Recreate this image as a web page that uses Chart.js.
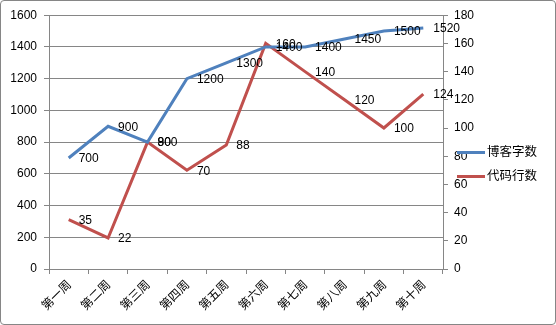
<!DOCTYPE html>
<html>
<head>
<meta charset="utf-8">
<script src="https://cdn.jsdelivr.net/npm/chart.js@4/dist/chart.umd.min.js"></script>
<style>
  html, body { margin: 0; padding: 0; background: #fff; }
  #wrap {
    position: relative;
    width: 554px; height: 323px;
    border: 1px solid #868686;
    border-radius: 4px;
    overflow: hidden;
  }
  #legend {
    position: absolute; left: 456px; top: 138px;
    font: 12.5px "Noto Sans CJK SC", sans-serif; color: #000;
  }
  #legend div { height: 24px; line-height: 24px; white-space: nowrap; }
  #legend span.swatch {
    display: inline-block; width: 28px; height: 3px;
    vertical-align: middle; margin-right: 2px;
  }
</style>
</head>
<body>
<div id="wrap">
  <canvas id="chart" width="554" height="323"></canvas>
  <div id="legend"></div>
</div>
<script>
// chart data
const weeks = ['第一周', '第二周', '第三周', '第四周', '第五周', '第六周', '第七周', '第八周', '第九周', '第十周'];
const blogWords = [700, 900, 800, 1200, 1300, 1400, 1400, 1450, 1500, 1520];
const codeLines = [35, 22, 90, 70, 88, 160, 140, 120, 100, 124];

const seriesNames = ['博客字数', '代码行数'];
const colors = ['#4F81BD', '#C0504D'];

// draws the value next to each point
const pointLabels = {
  id: 'pointLabels',
  afterDatasetsDraw(chart) {
    const c = chart.ctx;
    c.save();
    c.font = '12px "Liberation Sans", Arial, sans-serif';
    c.fillStyle = '#000';
    c.textAlign = 'left';
    c.textBaseline = 'middle';
    chart.data.datasets.forEach((ds, i) => {
      chart.getDatasetMeta(i).data.forEach((pt, j) => {
        c.fillText(ds.data[j], pt.x + 10, pt.y + 1);
      });
    });
    c.restore();
  }
};

document.addEventListener('DOMContentLoaded', () => {
  const ctx = document.getElementById('chart');
  const tickFont = { family: '"Liberation Sans", Arial, sans-serif', size: 12 };

  new Chart(ctx, {
    type: 'line',
    data: {
      labels: weeks,
      datasets: [
        {
          label: seriesNames[0],
          data: blogWords,
          borderColor: colors[0],
          borderWidth: 3,
          pointRadius: 0,
          yAxisID: 'y'
        },
        {
          label: seriesNames[1],
          data: codeLines,
          borderColor: colors[1],
          borderWidth: 3,
          pointRadius: 0,
          yAxisID: 'y1'
        }
      ]
    },
    options: {
      responsive: false,
      animation: false,
      layout: { padding: { top: 13, left: 0, right: 0, bottom: 0 } },
      plugins: {
        legend: { display: false },
        tooltip: { enabled: false }
      },
      scales: {
        x: {
          offset: true,
          grid: { drawOnChartArea: false, color: '#868686', tickLength: 5, offset: true },
          border: { color: '#868686' },
          ticks: {
            color: '#000',
            minRotation: 45,
            maxRotation: 45,
            font: { family: '"Noto Sans CJK SC", sans-serif', size: 12 }
          },
          afterFit(s) { s.height = 55; s.paddingLeft = 0; s.paddingRight = 0; }
        },
        y: {
          position: 'left',
          min: 0, max: 1600,
          ticks: { stepSize: 200, color: '#000', font: tickFont, padding: 7, callback: v => String(v) },
          grid: { color: '#868686', tickLength: 5 },
          border: { color: '#868686' },
          afterFit(s) { s.width = 48; }
        },
        y1: {
          position: 'right',
          min: 0, max: 180,
          ticks: { stepSize: 20, color: '#000', font: tickFont, padding: 6, callback: v => String(v) },
          grid: { drawOnChartArea: false, color: '#868686', tickLength: 5 },
          border: { color: '#868686' },
          afterFit(s) { s.width = 112; }
        }
      }
    },
    plugins: [pointLabels]
  });

  const legend = document.getElementById('legend');
  seriesNames.forEach((name, i) => {
    const row = document.createElement('div');
    row.innerHTML = '<span class="swatch" style="background:' + colors[i] + '"></span>' + name;
    legend.appendChild(row);
  });
});
</script>
</body>
</html>
